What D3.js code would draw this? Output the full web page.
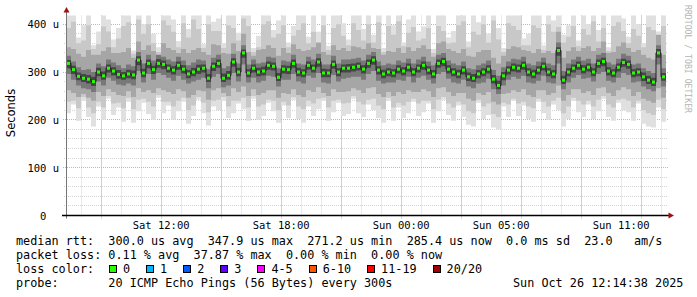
<!DOCTYPE html>
<html>
<head>
<meta charset="utf-8">
<script src="https://cdn.jsdelivr.net/npm/d3@7/dist/d3.min.js"></script>
<style>
body { margin: 0; background: #fff; }
svg text { font-family: "DejaVu Sans Mono", monospace; }
</style>
</head>
<body>
<svg id="chart" width="697" height="297"></svg>
<script>
// smokeping style graph, 30h window, values in microseconds, one column = 15 min
const stepHours = 0.25;

const median = [318,305,291,287,285,280,300,292,308,302, 295,292,296,294,325,298,318,305,318,316,
  308,304,314,306,296,300,306,308,287,312, 318,287,293,321,300,340,298,308,300,302,
  314,312,289,306,305,318,300,298,314,308, 321,298,298,316,300,308,308,310,312,306,
  318,325,304,296,300,298,306,302,310,300, 308,314,304,296,318,322,306,300,296,304,
  290,287,296,300,306,285,272,292,304,310, 308,314,300,296,304,312,300,296,345,283,
  300,308,314,306,310,300,318,322,302,298, 310,320,316,298,300,290,283,279,340,290];

// smoke: sorted ping spread, outer to inner
const maxV = [420,420,372,398,420,356,385,420,410,368, 392,420,420,345,420,400,420,380,352,420,
  420,410,365,420,390,420,420,358,420,405, 412,360,420,420,382,420,420,350,376,420,
  420,388,408,420,362,396,420,420,374,420, 384,420,355,420,420,402,368,420,420,390,
  420,378,420,350,420,398,420,362,410,420, 385,395,420,348,420,420,372,386,420,420,
  364,420,404,420,380,420,392,350,420,420, 420,370,380,420,420,356,420,408,420,378,
  398,420,366,420,400,420,388,420,352,420, 420,412,374,420,400,360,420,420,385,420];
const p95 = [392,405,360,366,398,348,358,395,385,352, 370,396,404,338,410,380,400,360,342,408,
  398,384,352,402,372,410,390,350,400,386, 386,350,398,392,366,412,396,342,352,400,
  406,372,380,398,352,376,388,402,360,384, 360,398,346,392,400,376,356,402,388,366,
  400,362,404,342,396,378,406,354,382,394, 366,370,392,340,396,386,360,362,398,406,
  352,384,378,400,362,408,368,342,402,396, 388,356,356,398,392,346,400,384,394,362,
  374,396,354,390,378,406,364,392,344,396, 404,386,360,390,376,352,394,388,362,396];
const p85 = [352,348,338,332,346,336,336,344,352,340, 340,342,350,330,364,346,356,344,334,360,
  350,346,340,348,340,346,350,342,336,358, 356,340,338,360,344,380,342,334,346,348,
  356,350,334,350,340,358,348,344,346,352, 362,342,336,356,346,350,344,354,352,348,
  360,350,348,336,344,342,350,340,352,344, 350,356,348,332,360,364,348,344,340,348,
  334,332,342,346,346,330,318,334,348,354, 352,346,344,340,348,340,344,340,384,330,
  344,352,344,350,354,344,350,364,340,342, 354,362,350,342,346,336,330,326,378,336];
const p70 = [334,322,310,304,306,300,318,312,326,320, 314,308,316,312,342,318,336,324,336,332,
  326,322,332,324,314,320,326,324,306,330, 336,308,312,338,318,356,316,326,318,320,
  332,330,308,324,322,336,318,316,332,326, 338,316,316,334,318,326,326,328,330,324,
  336,342,322,314,318,316,324,320,328,318, 326,332,322,314,336,340,324,318,314,322,
  308,306,314,318,324,304,292,310,322,328, 326,332,318,314,322,330,318,314,362,302,
  318,326,332,324,328,318,336,340,320,316, 328,338,334,316,318,308,302,298,356,308];
const p60 = [325,313,299,296,294,290,309,301,316,310, 304,300,305,303,333,307,326,313,327,324,
  316,312,322,314,304,309,315,316,296,320, 326,297,302,329,309,347,306,316,309,311,
  322,320,298,314,313,326,309,306,322,316, 329,307,306,324,308,316,317,318,320,314,
  326,333,312,305,308,306,314,310,318,308, 316,322,312,304,326,330,314,308,305,312,
  299,296,304,308,314,294,282,300,312,318, 316,322,308,305,312,320,308,304,352,292,
  308,316,322,314,318,308,326,330,310,306, 318,328,324,306,308,299,292,288,348,298];
const p40 = [308,296,283,279,276,271,291,284,299,293, 286,284,287,285,314,289,308,296,309,306,
  299,295,305,297,287,291,296,299,279,302, 309,279,284,311,291,330,289,299,291,293,
  305,303,281,297,296,309,291,289,305,299, 311,289,289,307,291,299,299,301,303,297,
  309,315,295,287,291,289,297,293,301,291, 299,305,295,287,309,312,297,291,287,295,
  281,279,287,291,297,276,264,283,295,301, 299,305,291,287,295,303,291,287,334,275,
  291,299,305,297,301,291,309,312,293,289, 301,311,307,289,291,281,275,271,330,282];
const p30 = [296,284,272,266,264,258,280,272,288,282, 274,272,276,272,302,278,296,284,298,294,
  288,282,292,284,276,280,284,288,266,290, 296,268,272,298,280,316,278,288,278,282,
  292,290,270,284,284,296,280,276,292,288, 298,278,276,294,280,286,288,290,290,284,
  296,302,282,276,278,278,284,282,290,278, 288,292,284,276,296,300,286,278,276,284,
  270,266,276,278,286,264,254,272,284,290, 286,292,278,276,282,292,278,276,318,264,
  278,288,294,286,288,280,296,300,282,278, 288,298,294,278,280,270,264,260,316,270];
const p15 = [262,256,248,254,246,240,258,250,264,258, 252,250,260,248,266,258,262,256,266,262,
  258,254,264,260,246,252,262,260,242,262, 266,256,250,266,258,270,250,264,252,256,
  262,262,246,256,254,264,252,248,262,258, 268,256,250,264,258,258,260,266,262,256,
  266,268,254,248,258,250,258,254,262,258, 258,264,260,248,266,268,258,250,256,256,
  244,240,256,252,258,238,232,254,256,262, 258,264,252,248,262,262,252,256,272,240,
  252,264,264,256,260,252,266,268,256,250, 262,268,264,250,258,244,240,236,266,246];
const p5 = [238,240,224,248,226,214,238,226,250,234, 236,224,246,222,242,244,238,228,252,238,
  238,228,240,246,220,230,248,236,216,240, 242,248,228,240,240,246,226,250,228,232,
  242,240,220,238,230,248,228,222,240,234, 244,246,226,240,242,234,236,250,238,232,
  242,244,230,222,246,226,236,230,238,244, 234,240,240,222,242,248,234,226,238,232,
  218,214,242,228,234,212,206,236,232,244, 234,238,228,224,244,238,228,240,246,214,
  228,246,240,232,240,228,242,250,232,226, 242,244,240,226,240,220,214,210,242,222];
const minV = [214,232,198,240,206,186,228,200,244,210, 226,196,238,194,218,236,212,200,246,214,
  230,200,218,238,192,208,242,214,188,228, 220,240,204,214,234,222,198,244,200,208,
  236,218,194,230,204,242,202,194,228,208, 222,240,198,216,236,208,212,244,214,206,
  232,220,204,194,240,198,226,204,214,238, 208,216,234,194,218,242,210,198,230,206,
  190,186,236,202,210,184,180,228,206,240, 208,230,202,196,238,214,200,232,220,186,
  202,240,216,206,232,202,218,244,206,198, 236,220,216,198,234,192,186,184,226,196];

// axis labels
const yTicks = [0, 100, 200, 300, 400];
const yTickLabels = ["0\u00a0\u00a0", "100 u", "200 u", "300 u", "400 u"];
const firstFullHour = 0.756;   // first whole hour after window start (05:14:38 UTC)
const xTickHours = [4.756, 10.756, 16.756, 21.756, 27.756];
const xTickLabels = ["Sat 12:00", "Sat 18:00", "Sun 00:00", "Sun 05:00", "Sun 11:00"];

// legend
const lossLabels = ["0", "1", "2", "3", "4-5", "6-10", "11-19", "20/20"];
const lossColors = ["#26ff00", "#00b8ff", "#0059ff", "#5e00ff", "#ff00ff", "#ff5500", "#ff0000", "#a00000"];
const legendLines = [
  "median rtt:  300.0 us avg  347.9 us max  271.2 us min  285.4 us now  0.0 ms sd  23.0   am/s",
  "packet loss: 0.11 % avg  37.87 % max  0.00 % min  0.00 % now",
  "loss color:",
  "probe:       20 ICMP Echo Pings (56 Bytes) every 300s"
];
const stamp = "Sun Oct 26 12:14:38 2025";

const svg = d3.select("#chart");
const pLeft = 66, pRight = 666, pTop = 15.5, pBottom = 215.5;
const x = d3.scaleLinear().domain([0, 30]).range([pLeft, pRight]);
const y = d3.scaleLinear().domain([0, 418.2]).range([pBottom, pTop]);
const crisp = v => Math.floor(v) + 0.5;

svg.append("rect").attr("width", 697).attr("height", 297).attr("fill", "#fff");

// grid
const grid = svg.append("g");
const minorH = d3.range(firstFullHour, 30, 1);
const majorH = d3.range(firstFullHour + 1, 30, 3);
const minorV = d3.range(20, 420, 20).filter(v => v % 100 != 0);
const majorV = d3.range(100, 420, 100);

grid.selectAll(".gv").data(minorH).join("line")
  .attr("x1", d => crisp(x(d))).attr("x2", d => crisp(x(d)))
  .attr("y1", pTop).attr("y2", pBottom + 2)
  .attr("stroke", "#d4d4d4").attr("stroke-dasharray", "1,1");
grid.selectAll(".gh").data(minorV).join("line")
  .attr("x1", pLeft - 2).attr("x2", pRight + 2)
  .attr("y1", d => crisp(y(d))).attr("y2", d => crisp(y(d)))
  .attr("stroke", "#d4d4d4").attr("stroke-dasharray", "1,1");
grid.selectAll(".mv").data(majorH).join("line")
  .attr("x1", d => crisp(x(d))).attr("x2", d => crisp(x(d)))
  .attr("y1", pTop).attr("y2", pBottom + 3)
  .attr("stroke", "#e0a8a8").attr("stroke-dasharray", "1,1");
grid.selectAll(".mh").data(majorV).join("line")
  .attr("x1", pLeft - 3).attr("x2", pRight + 2)
  .attr("y1", d => crisp(y(d))).attr("y2", d => crisp(y(d)))
  .attr("stroke", "#e0a8a8").attr("stroke-dasharray", "1,1");

// smoke
svg.append("clipPath").attr("id", "plot")
  .append("rect").attr("x", pLeft).attr("y", pTop).attr("width", pRight - pLeft).attr("height", pBottom - pTop);
const plot = svg.append("g").attr("clip-path", "url(#plot)");
const idx = d3.range(median.length + 1);
const at = (arr, i) => arr[Math.min(i, arr.length - 1)];
const bands = [
  [minV, maxV, "#e0e0e0"],
  [p5, p95, "#c8c8c8"],
  [p15, p85, "#a6a6a6"],
  [p30, p70, "#787878"],
  [p40, p60, "#464646"]
];
bands.forEach(([lo, hi, col]) => {
  const area = d3.area()
    .x(i => x(i * stepHours))
    .y0(i => y(at(lo, i)))
    .y1(i => y(at(hi, i)))
    .curve(d3.curveStepAfter);
  plot.append("path").datum(idx).attr("d", area).attr("fill", col);
});

// median
const medLine = d3.line()
  .x(i => x(i * stepHours))
  .y(i => y(at(median, i)))
  .curve(d3.curveStepAfter);
plot.append("path").datum(idx).attr("d", medLine)
  .attr("fill", "none").attr("stroke", "#202020").attr("stroke-width", 1);
const colW = x(stepHours) - x(0);
plot.selectAll(".med").data(median).join("rect")
  .attr("x", (d, i) => x(i * stepHours) + 1)
  .attr("width", colW - 2)
  .attr("y", d => y(d) - 1.5)
  .attr("height", 3)
  .attr("fill", lossColors[0]);

// axes
svg.append("line").attr("x1", pLeft + 0.5).attr("x2", pLeft + 0.5)
  .attr("y1", 11).attr("y2", pBottom + 3).attr("stroke", "#777");
svg.append("line").attr("x1", pLeft - 4).attr("x2", pRight + 4)
  .attr("y1", pBottom).attr("y2", pBottom).attr("stroke", "#000").attr("stroke-width", 1.5);
svg.append("path").attr("d", `M${pLeft + 0.5},7 L${pLeft + 3.5},12.5 L${pLeft - 2.5},12.5 Z`).attr("fill", "#a01010");
svg.append("path").attr("d", `M${pRight + 8},${pBottom} L${pRight + 2.5},${pBottom - 3} L${pRight + 2.5},${pBottom + 3} Z`).attr("fill", "#a01010");

svg.selectAll(".yl").data(yTicks).join("text")
  .attr("x", 59).attr("y", d => y(d) + 4)
  .attr("text-anchor", "end").attr("font-size", "10.5px").attr("fill", "#000")
  .text((d, i) => yTickLabels[i]);
svg.selectAll(".xl").data(xTickHours).join("text")
  .attr("x", d => x(d)).attr("y", 228.5)
  .attr("text-anchor", "middle").attr("font-size", "10.5px").attr("fill", "#000")
  .text((d, i) => xTickLabels[i]);

svg.append("text")
  .attr("transform", "translate(15,113) rotate(-90)")
  .attr("text-anchor", "middle")
  .style("font-family", "'DejaVu Sans', sans-serif").attr("font-size", "11.5px")
  .text("Seconds");

svg.append("text")
  .attr("transform", "translate(685,5) rotate(90)")
  .attr("font-size", "9px").attr("fill", "#b4b4b4")
  .attr("textLength", 108).attr("lengthAdjust", "spacingAndGlyphs")
  .text("RRDTOOL / TOBI OETIKER");

// legend
const lineY = [245, 259, 273, 287];
const charW = 7.1;
svg.selectAll(".lg").data(legendLines).join("text")
  .attr("x", 16).attr("y", (d, i) => lineY[i])
  .attr("font-size", "11.8px").attr("xml:space", "preserve").style("white-space", "pre")
  .text(d => d);
svg.append("text").attr("x", 16 + 70 * charW).attr("y", lineY[3])
  .attr("font-size", "11.8px").text(stamp);

let bx = 109;
const boxX = lossLabels.map(l => { const v = bx; bx += 30 + l.length * charW; return v; });
const lg = svg.selectAll(".lc").data(lossLabels).join("g");
lg.append("rect")
  .attr("x", (d, i) => Math.round(boxX[i]) + 0.5).attr("y", 265.5)
  .attr("width", 7).attr("height", 7)
  .attr("fill", (d, i) => lossColors[i]).attr("stroke", "#000");
lg.append("text")
  .attr("x", (d, i) => boxX[i] + 14).attr("y", lineY[2])
  .attr("font-size", "11.8px")
  .text(d => d);
</script>
</body>
</html>
